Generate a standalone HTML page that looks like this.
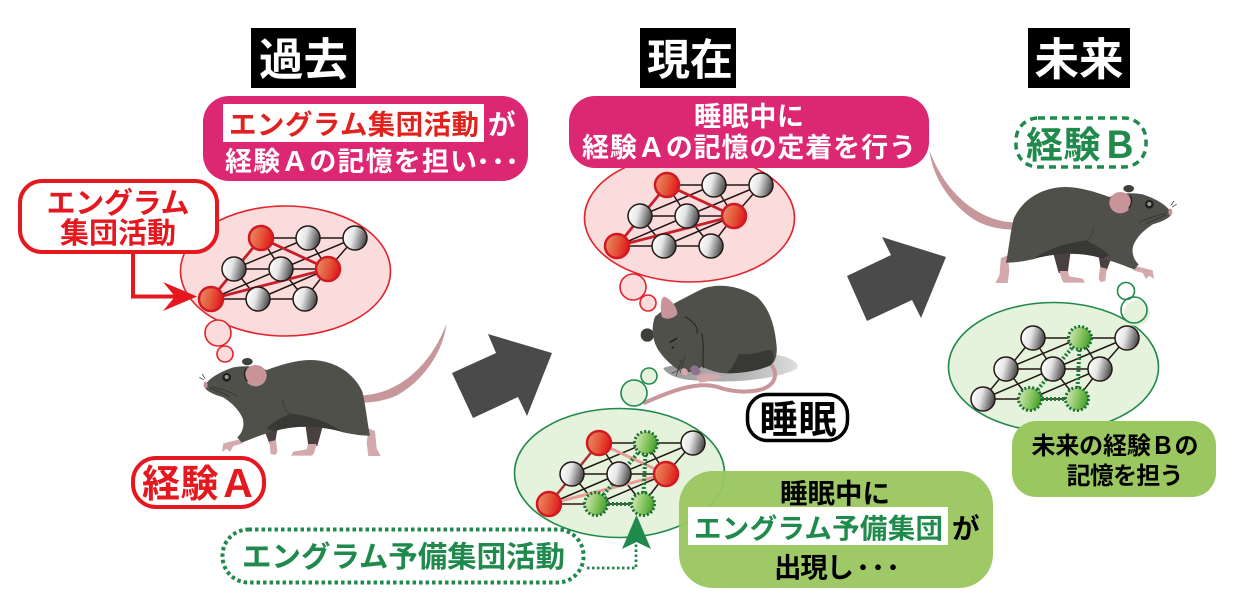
<!DOCTYPE html>
<html lang="ja">
<head>
<meta charset="utf-8">
<title>経験と記憶</title>
<style>
html,body{margin:0;padding:0;background:#fff;}
svg{display:block;}
text{font-family:"Liberation Sans","Noto Sans CJK JP",sans-serif;font-weight:700;}
.jp{font-family:"Noto Sans CJK JP","Liberation Sans",sans-serif;font-weight:700;}
</style>
</head>
<body>
<svg xmlns="http://www.w3.org/2000/svg" width="1259" height="606" viewBox="0 0 1259 606">
<defs>
  <linearGradient id="gw" x1="0" y1="0.35" x2="1" y2="0.6">
    <stop offset="0" stop-color="#ffffff"/><stop offset="0.4" stop-color="#e6e6e6"/><stop offset="1" stop-color="#3f3f3f"/>
  </linearGradient>
  <linearGradient id="gr" x1="0" y1="0.35" x2="1" y2="0.6">
    <stop offset="0" stop-color="#ea8a68"/><stop offset="0.5" stop-color="#e4583a"/><stop offset="1" stop-color="#e0141c"/>
  </linearGradient>
  <linearGradient id="gg" x1="0" y1="0.35" x2="1" y2="0.6">
    <stop offset="0" stop-color="#d3e8bb"/><stop offset="0.5" stop-color="#8cc763"/><stop offset="1" stop-color="#3f9c2a"/>
  </linearGradient>
  <linearGradient id="sh" x1="0" y1="0" x2="1" y2="0">
    <stop offset="0" stop-color="#9a9a9a"/><stop offset="0.6" stop-color="#b5b5b5"/><stop offset="1" stop-color="#dedede"/>
  </linearGradient>

  <g id="edges" fill="none" stroke="#231815" stroke-width="1.5">
    <path d="M50,-61H144M23,-30H117M0,0H94"/>
    <path d="M0,0L50,-61M50,-61L70,-30M97,-61L117,-30M144,-61L117,-30"/>
    <path d="M23,-30L47,0M70,-30L94,0M117,-30L94,0"/>
    <path d="M0,0L70,-30M47,0L117,-30M23,-30L97,-61M70,-30L144,-61"/>
  </g>

  <g id="mouse">
    <g transform="translate(0,170) scale(0.33333)">
      <path d="M1088,676C1180,672 1285,605 1340,460C1328,555 1262,635 1195,674C1160,692 1120,697 1092,698Z" fill="#c8979c"/>
      <path d="M915,755L972,755L952,828L925,828Z" fill="#4a403f"/>
      <path d="M785,760L835,760L826,815L808,820Z" fill="#4a403f"/>
      <path d="M808,815L828,810L832,846L826,855L812,852Z" fill="#d3a9ab"/>
      <path d="M925,822L950,822L942,850L936,857L873,857L880,845L920,838Z" fill="#d3a9ab"/>
      <path d="M1105,775L1125,783L1130,835L1142,858L1105,858L1100,820Z" fill="#d3a9ab"/>
      <path d="M718,808L670,820L666,846L680,836L690,846L700,828L728,820Z" fill="#d3a9ab"/>
      <ellipse cx="742" cy="575" rx="16" ry="11" fill="#3f403c"/>
      <path d="M612,650C625,625 660,605 700,592C740,585 770,590 800,600C840,585 890,570 930,570C1005,570 1062,610 1087,665C1098,710 1102,760 1110,797C1080,797 1055,792 1030,787C1000,777 960,772 930,770C880,770 850,775 820,785C790,792 750,808 725,818L712,802C725,790 735,770 728,745C715,715 690,695 670,682C645,675 620,665 612,650Z" fill="#4e5049"/>
      <path d="M800,775C820,752 850,742 870,730C910,735 975,748 1030,787C1000,777 960,772 930,770C880,770 850,775 820,785Z" fill="#383935"/>
      <path d="M848,690C850,710 858,725 870,732" fill="none" stroke="#3a3b37" stroke-width="2.500"/>
      <ellipse cx="767" cy="617" rx="33" ry="32" fill="#c89499"/>
      <path d="M738,596C730,610 735,625 742,635" fill="none" stroke="#1c1c1a" stroke-width="4"/>
      <circle cx="680" cy="622" r="13" fill="#1f1f1d"/>
      <circle cx="680" cy="621" r="6" fill="#9a9a96"/>
      <ellipse cx="617" cy="645" rx="6" ry="10" fill="#c88f96"/>
      <path d="M632,650C660,655 690,665 712,678M630,655C650,662 670,670 690,680M612,630L598,622M616,626L606,612" fill="none" stroke="#2a2a28" stroke-width="2"/>
    </g>
  </g>
</defs>

<!-- headers -->
<rect x="251" y="28" width="105" height="60" fill="#000"/>
<text x="303.500" y="75" text-anchor="middle" font-size="44.500" fill="#fff" class="jp">過去</text>
<rect x="640" y="28" width="96" height="60" fill="#000"/>
<text x="690" y="75" text-anchor="middle" font-size="43" fill="#fff" class="jp">現在</text>
<rect x="1028" y="28" width="102" height="60" fill="#000"/>
<text x="1079" y="75" text-anchor="middle" font-size="44.500" fill="#fff" class="jp">未来</text>

<!-- LEFT thought -->
<ellipse cx="285.500" cy="271" rx="105" ry="65" fill="#fbdcdc" stroke="#e2242c" stroke-width="1.600"/>
<circle cx="218" cy="333" r="13" fill="#fbdcdc" stroke="#e2242c" stroke-width="1.600"/>
<circle cx="225" cy="354" r="8" fill="#fbdcdc" stroke="#e2242c" stroke-width="1.600"/>
<g transform="translate(211,299)">
  <use href="#edges"/>
  <path d="M0,0L50,-61L117,-30Z" fill="none" stroke="#c81e28" stroke-width="2.800"/>
  <circle cx="47" r="12" fill="url(#gw)" stroke="#231815" stroke-width="1.500"/>
  <circle cx="94" r="12" fill="url(#gw)" stroke="#231815" stroke-width="1.500"/>
  <circle cx="23" cy="-30" r="12" fill="url(#gw)" stroke="#231815" stroke-width="1.500"/>
  <circle cx="70" cy="-30" r="12" fill="url(#gw)" stroke="#231815" stroke-width="1.500"/>
  <circle cx="97" cy="-61" r="12" fill="url(#gw)" stroke="#231815" stroke-width="1.500"/>
  <circle cx="144" cy="-61" r="12" fill="url(#gw)" stroke="#231815" stroke-width="1.500"/>
  <circle cx="0" cy="0" r="12" fill="url(#gr)" stroke="#cf1a22" stroke-width="2.500"/>
  <circle cx="50" cy="-61" r="12" fill="url(#gr)" stroke="#cf1a22" stroke-width="2.500"/>
  <circle cx="117" cy="-30" r="12" fill="url(#gr)" stroke="#cf1a22" stroke-width="2.500"/>
</g>

<!-- red label + arrow -->
<path d="M133,250V296.500H178" fill="none" stroke="#e5171f" stroke-width="4"/>
<path d="M163,282L197,296.500L163,311L175,296.500Z" fill="#e5171f"/>
<rect x="20" y="181" width="197" height="71" rx="22" fill="#fff" stroke="#e5171f" stroke-width="4"/>
<text x="118" y="213" text-anchor="middle" font-size="29" fill="#e5171f" class="jp" textLength="143" lengthAdjust="spacing">エングラム</text>
<text x="118" y="243" text-anchor="middle" font-size="29" fill="#e5171f" class="jp" textLength="116" lengthAdjust="spacing">集団活動</text>

<!-- pink box 1 -->
<rect x="203" y="96" width="325" height="85" rx="26" fill="#dc2773"/>
<rect x="223" y="104" width="261" height="38" fill="#fff"/>
<text x="229" y="134" font-size="27.500" fill="#e0211d" class="jp" textLength="250" lengthAdjust="spacing">エングラム集団活動</text>
<text x="488" y="134" font-size="27.500" fill="#fff" class="jp">が</text>
<text x="225" y="171" font-size="27" fill="#fff" class="jp" textLength="252" lengthAdjust="spacing">経験Ａの記憶を担い</text>
<text x="472 487 501" y="169.500" font-size="22" fill="#fff" class="jp">・・・</text>

<!-- left mouse -->
<use href="#mouse"/>
<!-- right mouse (mirror) -->
<use href="#mouse" transform="matrix(-1,0,0,1,1376,-173)"/>

<!-- experience A -->
<rect x="133" y="458" width="131" height="49" rx="23" fill="#fff" stroke="#e5171f" stroke-width="4"/>
<text x="142" y="497" font-size="38" fill="#e5171f" class="jp" textLength="115" lengthAdjust="spacing">経験Ａ</text>

<!-- arrows -->
<path d="M452,373L496,353L488,334L552,353L527,416L518,397L473,418Z" fill="#4a4a4a"/>
<path d="M847,276L891,255L882,237L946,257L921,318L912,300L867,321Z" fill="#4a4a4a"/>

<!-- MIDDLE top thought -->
<ellipse cx="689.500" cy="218" rx="105" ry="64" fill="#fbdcdc" stroke="#e2242c" stroke-width="1.600"/>
<circle cx="633" cy="287" r="13" fill="#fbdcdc" stroke="#e2242c" stroke-width="1.600"/>
<circle cx="648" cy="303" r="8" fill="#fbdcdc" stroke="#e2242c" stroke-width="1.600"/>
<g transform="translate(617,246)">
  <use href="#edges"/>
  <path d="M0,0L50,-61L117,-30Z" fill="none" stroke="#c81e28" stroke-width="2.800"/>
  <circle cx="47" r="12" fill="url(#gw)" stroke="#231815" stroke-width="1.500"/>
  <circle cx="94" r="12" fill="url(#gw)" stroke="#231815" stroke-width="1.500"/>
  <circle cx="23" cy="-30" r="12" fill="url(#gw)" stroke="#231815" stroke-width="1.500"/>
  <circle cx="70" cy="-30" r="12" fill="url(#gw)" stroke="#231815" stroke-width="1.500"/>
  <circle cx="97" cy="-61" r="12" fill="url(#gw)" stroke="#231815" stroke-width="1.500"/>
  <circle cx="144" cy="-61" r="12" fill="url(#gw)" stroke="#231815" stroke-width="1.500"/>
  <circle cx="0" cy="0" r="12" fill="url(#gr)" stroke="#cf1a22" stroke-width="2.500"/>
  <circle cx="50" cy="-61" r="12" fill="url(#gr)" stroke="#cf1a22" stroke-width="2.500"/>
  <circle cx="117" cy="-30" r="12" fill="url(#gr)" stroke="#cf1a22" stroke-width="2.500"/>
</g>

<!-- pink box 2 -->
<rect x="569" y="96" width="360" height="72" rx="26" fill="#dc2773"/>
<text x="749" y="126" text-anchor="middle" font-size="27" fill="#fff" class="jp" textLength="110" lengthAdjust="spacing">睡眠中に</text>
<text x="749" y="157" text-anchor="middle" font-size="27" fill="#fff" class="jp" textLength="334" lengthAdjust="spacing">経験Ａの記憶の定着を行う</text>

<!-- sleeping mouse -->
<g transform="translate(570,160) scale(0.33333)">
  <path d="M280,625C300,610 500,595 620,585C660,590 690,610 682,625C640,650 520,672 400,662C340,662 295,650 280,625Z" fill="url(#sh)"/>
  <ellipse cx="232" cy="525" rx="20" ry="20" fill="#3d3e3a"/>
  <path d="M255,470C290,440 330,420 400,385C440,372 500,372 560,410C600,445 615,500 620,560C622,585 615,610 600,615C570,630 520,640 470,640C440,640 420,630 395,620C370,640 345,640 325,630C290,605 255,570 250,530C246,510 248,490 255,470Z" fill="#4e5049"/>
  <path d="M505,580C540,590 580,570 600,570C615,575 615,610 600,617C570,630 520,640 470,640C490,620 500,600 505,580Z" fill="#383935"/>
  <path d="M275,470C270,440 272,415 282,410C300,415 322,440 322,462C310,478 285,480 275,470Z" fill="#c89499"/>
  <path d="M395,520C405,560 395,600 400,625M345,470C380,490 385,510 380,520" fill="none" stroke="#1c1c1a" stroke-width="2.500"/>
  <path d="M298,548L322,534M305,565L312,560" fill="none" stroke="#1c1c1a" stroke-width="4"/>
  <path d="M360,625C370,610 385,615 392,635C390,645 375,650 365,640Z" fill="#8d7390"/>
  <path d="M330,628C345,620 358,628 352,645C340,650 332,640 330,628Z" fill="#d3a9ab"/>
  <path d="M605,615C625,645 615,675 575,688C530,700 480,695 440,680C380,665 310,690 220,730" fill="none" stroke="#c8979c" stroke-width="12"/>
  <path d="M380,650C400,635 430,640 460,650C440,660 410,665 388,668Z" fill="#d3a9ab"/>
  <path d="M345,590L330,640M335,600L318,648M328,630L305,640" fill="none" stroke="#2a2a28" stroke-width="1.800"/>
</g>

<!-- sleep label -->
<rect x="747.500" y="394.500" width="100" height="46" rx="20" fill="#fff" stroke="#000" stroke-width="3.500"/>
<text x="798" y="433" text-anchor="middle" font-size="38" fill="#000" class="jp" textLength="77" lengthAdjust="spacing">睡眠</text>

<!-- MIDDLE bottom thought -->
<ellipse cx="619.500" cy="473" rx="105" ry="64.500" fill="#e6f3dc" stroke="#1f8a4c" stroke-width="1.600"/>
<circle cx="634" cy="393" r="13" fill="#e6f3dc" stroke="#1f8a4c" stroke-width="1.600"/>
<circle cx="649" cy="376" r="8" fill="#e6f3dc" stroke="#1f8a4c" stroke-width="1.600"/>
<g transform="translate(549,504)">
  <use href="#edges"/>
  <path d="M0,0L117,-30L50,-61" fill="none" stroke="#e5a096" stroke-width="3"/>
  <path d="M0,0L50,-61" fill="none" stroke="#a83232" stroke-width="2.500"/>
  <path d="M47,0L97,-61M97,-61L94,0M47,0H94" fill="none" stroke="#1f7a3a" stroke-width="4" stroke-dasharray="2 2"/>
  <circle cx="23" cy="-30" r="12" fill="url(#gw)" stroke="#231815" stroke-width="1.500"/>
  <circle cx="70" cy="-30" r="12" fill="url(#gw)" stroke="#231815" stroke-width="1.500"/>
  <circle cx="144" cy="-61" r="12" fill="url(#gw)" stroke="#231815" stroke-width="1.500"/>
  <circle cx="47" r="11.500" fill="url(#gg)" stroke="#1c6e35" stroke-width="3" stroke-dasharray="2 2"/>
  <circle cx="94" r="11.500" fill="url(#gg)" stroke="#1c6e35" stroke-width="3" stroke-dasharray="2 2"/>
  <circle cx="97" cy="-61" r="11.500" fill="url(#gg)" stroke="#1c6e35" stroke-width="3" stroke-dasharray="2 2"/>
  <circle cx="0" cy="0" r="12" fill="url(#gr)" stroke="#cf1a22" stroke-width="2.500"/>
  <circle cx="50" cy="-61" r="12" fill="url(#gr)" stroke="#cf1a22" stroke-width="2.500"/>
  <circle cx="117" cy="-30" r="12" fill="url(#gr)" stroke="#cf1a22" stroke-width="2.500"/>
</g>

<!-- green arrow -->
<path d="M587,568H636V543" fill="none" stroke="#1f8a4c" stroke-width="2.800" stroke-dasharray="2.500 2.500"/>
<path d="M636.500,515L651,549L636.500,542L622,549Z" fill="#1f8a4c"/>

<!-- dotted green label -->
<rect x="222.500" y="529.500" width="361" height="53" rx="26" fill="#fff" stroke="#1f8a4c" stroke-width="4" stroke-dasharray="3.500 3"/>
<text x="242" y="567" font-size="29.500" fill="#1f8a4c" class="jp" textLength="323" lengthAdjust="spacing">エングラム予備集団活動</text>

<!-- green box -->
<rect x="679" y="471" width="314" height="117" rx="34" fill="#9bc761" fill-opacity="0.96"/>
<rect x="688" y="507" width="260" height="38" fill="#fff"/>
<text x="835" y="503" text-anchor="middle" font-size="27.500" fill="#000" class="jp" textLength="110" lengthAdjust="spacing">睡眠中に</text>
<text x="694" y="538" font-size="27.500" fill="#1f8a4c" class="jp" textLength="249" lengthAdjust="spacing">エングラム予備集団</text>
<text x="952" y="538" font-size="27.500" fill="#000" class="jp">が</text>
<text x="774" y="577" font-size="27.500" fill="#000" class="jp" textLength="80" lengthAdjust="spacing">出現し</text>
<text x="852 867 882" y="575.500" font-size="22" fill="#000" class="jp">・・・</text>

<!-- Experience B -->
<rect x="1016" y="118" width="130" height="49" rx="22" fill="#fff" stroke="#1f8a4c" stroke-width="3.500" stroke-dasharray="7 5"/>
<text x="1026" y="158" font-size="37" fill="#1f8a4c" class="jp" textLength="112" lengthAdjust="spacing">経験Ｂ</text>

<!-- RIGHT thought -->
<ellipse cx="1053.500" cy="367" rx="105" ry="64.500" fill="#e6f3dc" stroke="#1f8a4c" stroke-width="1.600"/>
<circle cx="1126" cy="291" r="8.500" fill="#fff" stroke="#1f8a4c" stroke-width="1.600"/>
<circle cx="1137" cy="313" r="13" fill="#e6f3dc"/>
<circle cx="1134" cy="310" r="13" fill="none" stroke="#1f8a4c" stroke-width="1.600"/>
<g transform="translate(983,399)">
  <use href="#edges"/>
  <path d="M47,0L97,-61M97,-61L94,0M47,0H94" fill="none" stroke="#1f7a3a" stroke-width="4" stroke-dasharray="2 2"/>
  <circle cx="0" cy="0" r="12" fill="url(#gw)" stroke="#231815" stroke-width="1.500"/>
  <circle cx="50" cy="-61" r="12" fill="url(#gw)" stroke="#231815" stroke-width="1.500"/>
  <circle cx="117" cy="-30" r="12" fill="url(#gw)" stroke="#231815" stroke-width="1.500"/>
  <circle cx="23" cy="-30" r="12" fill="url(#gw)" stroke="#231815" stroke-width="1.500"/>
  <circle cx="70" cy="-30" r="12" fill="url(#gw)" stroke="#231815" stroke-width="1.500"/>
  <circle cx="144" cy="-61" r="12" fill="url(#gw)" stroke="#231815" stroke-width="1.500"/>
  <circle cx="47" r="11.500" fill="url(#gg)" stroke="#1c6e35" stroke-width="3" stroke-dasharray="2 2"/>
  <circle cx="94" r="11.500" fill="url(#gg)" stroke="#1c6e35" stroke-width="3" stroke-dasharray="2 2"/>
  <circle cx="97" cy="-61" r="11.500" fill="url(#gg)" stroke="#1c6e35" stroke-width="3" stroke-dasharray="2 2"/>
</g>

<!-- right green box -->
<rect x="1012" y="421" width="204" height="76" rx="24" fill="#9bc761"/>
<text x="1115" y="454" text-anchor="middle" font-size="24" fill="#000" class="jp" textLength="167" lengthAdjust="spacing">未来の経験Ｂの</text>
<text x="1125" y="484" text-anchor="middle" font-size="24" fill="#000" class="jp" textLength="117" lengthAdjust="spacing">記憶を担う</text>
</svg>
</body>
</html>
